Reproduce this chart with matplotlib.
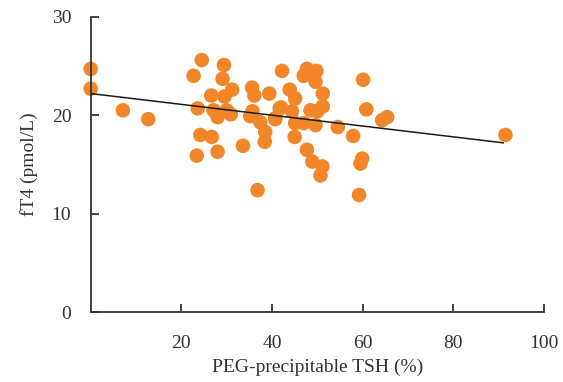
import numpy as np
import matplotlib.pyplot as plt

plt.rcParams['font.family'] = ['Liberation Serif', 'DejaVu Serif']

# PEG-precipitable TSH (%) and fT4 (pmol/L)
tsh = [0, 0, 7.1, 12.7, 24.5, 22.7, 29.4, 29.1, 31.2, 26.6, 29.5, 23.6, 27.1, 30.0,
       28.0, 30.9, 24.2, 26.7, 23.4, 28.0, 33.6, 36.8, 35.6, 36.1, 39.4, 35.7, 35.2,
       37.4, 38.5, 38.4, 40.7, 41.7, 42.2, 47.7, 49.8, 47.0, 49.6, 60.1, 43.9, 45.1,
       51.2, 51.2, 42.0, 44.4, 48.5, 50.0, 40.7, 45.1, 47.0, 49.6, 60.8, 64.3, 65.4,
       54.5, 57.9, 45.0, 47.7, 48.9, 51.1, 50.7, 59.9, 59.5, 59.2, 91.5]
ft4 = [24.7, 22.7, 20.5, 19.6, 25.6, 24.0, 25.1, 23.7, 22.6, 22.0, 21.9, 20.7, 20.5, 20.5,
       19.8, 20.1, 18.0, 17.8, 15.9, 16.3, 16.9, 12.4, 22.8, 22.0, 22.2, 20.4, 19.9,
       19.3, 18.3, 17.3, 19.7, 20.7, 24.5, 24.7, 24.5, 24.0, 23.4, 23.6, 22.6, 21.7,
       22.2, 20.9, 20.8, 20.4, 20.5, 20.4, 19.6, 19.2, 19.2, 19.0, 20.6, 19.5, 19.8,
       18.8, 17.9, 17.8, 16.5, 15.3, 14.8, 13.9, 15.6, 15.1, 11.9, 18.0]

# regression line end points
line_x = [0, 91.0]
line_y = [22.2, 17.2]

fig = plt.figure(figsize=(5.63, 3.82), dpi=100)
ax = fig.add_axes([90.7 / 563, 1 - 312.3 / 382, (544 - 90.7) / 563, (312.3 - 16.7) / 382])

ax.scatter(tsh, ft4, s=110, color='#F4862A', edgecolors='none', zorder=2, clip_on=False)
ax.plot(line_x, line_y, color='#1a1a1a', lw=1.1, zorder=3)

ax.set_xlim(0, 100)
ax.set_ylim(0, 30)
ax.set_xticks([20, 40, 60, 80, 100])
ax.set_yticks([0, 10, 20, 30])
for s in ['top', 'right']:
    ax.spines[s].set_visible(False)
for s in ['left', 'bottom']:
    ax.spines[s].set_color('#333333')
    ax.spines[s].set_linewidth(1.3)
ax.tick_params(direction='in', length=6, width=1.3, color='#333333', labelsize=14, labelcolor='#333333')
ax.tick_params(axis='x', pad=16)
ax.tick_params(axis='y', pad=14)
ax.set_xlabel('PEG-precipitable TSH (%)', fontsize=14, color='#333333', labelpad=5)
ax.set_ylabel('fT4 (pmol/L)', fontsize=14, color='#333333', labelpad=10)

fig.savefig('out.png', dpi=100)
